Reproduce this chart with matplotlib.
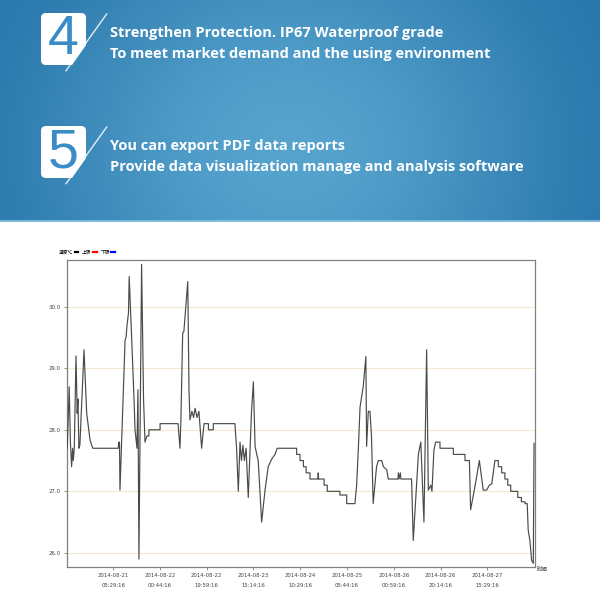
import numpy as np
import matplotlib
matplotlib.use('Agg')
import matplotlib.pyplot as plt
import pandas as pd
from matplotlib.patches import FancyBboxPatch, Polygon
from matplotlib.lines import Line2D

# ---------------- data ----------------
hours = [0.1, 0.5, 0.9, 1.4, 1.9, 2.3, 2.6, 3.0, 3.7, 4.2, 4.5, 4.9, 5.3, 7.0, 8.1, 9.5, 10.6,
         21.1, 21.3, 21.6, 21.8, 23.9, 24.3, 24.7, 25.3, 25.6, 26.1, 26.5, 27.6, 28.0, 28.8, 29.2,
         29.6, 30.7, 31.5, 32.1, 32.9, 33.7, 33.7, 38.3, 38.3, 45.7, 46.1, 46.5, 46.9, 47.6, 48.1,
         49.7, 50.2, 50.6, 51.4, 52.1, 52.7, 53.5, 54.3, 55.4, 56.4, 58.2, 58.2, 60.2, 60.2, 69.1,
         69.8, 70.5, 71.2, 71.8, 72.4, 73.0, 73.7, 74.6, 75.9, 76.7, 77.4, 78.1, 78.7, 80.1, 81.5,
         82.8, 84.2, 85.6, 86.5, 94.5, 94.5, 95.9, 95.9, 97.3, 97.3, 98.4, 98.4, 100.0, 100.0,
         103.3, 103.4, 103.5, 105.8, 105.8, 107.1, 107.1, 112.3, 112.3, 115.1, 115.1, 118.5,
         119.2, 119.9, 120.6, 121.9, 123.0, 123.3, 124.0, 124.7, 125.3, 126.0, 127.4, 128.1,
         129.5, 130.2, 131.6, 132.2, 136.2, 136.4, 136.6, 137.2, 137.4, 141.8, 142.5, 144.6,
         145.6, 146.9, 148.0, 148.7, 149.7, 150.2, 151.0, 151.7, 153.5, 153.5, 159.0, 159.0,
         163.8, 163.8, 165.6, 166.1, 167.9, 169.7, 171.3, 172.7, 173.8, 174.8, 176.1, 177.5,
         177.5, 178.9, 178.9, 180.2, 180.2, 181.4, 181.4, 182.6, 182.6, 185.5, 185.5, 187.0,
         187.0, 188.5, 188.5, 189.4, 189.8, 190.5, 191.2, 191.9, 192.2]
temps = [27.7, 28.2, 28.7, 27.8, 27.4, 27.7, 27.5, 27.7, 29.2, 28.27, 28.5, 27.7, 27.75, 29.3, 28.27, 27.83, 27.7,
         27.7, 27.8, 27.8, 27.02, 29.46, 29.5, 29.7, 29.9, 30.49, 30.0, 29.6, 28.48, 28.0, 27.7, 28.65,
         25.9, 30.69, 28.5, 27.8, 27.9, 27.9, 28.0, 28.0, 28.1, 28.1, 27.9, 27.7, 28.2, 29.57, 29.6,
         30.41, 28.65, 28.16, 28.3, 28.2, 28.35, 28.2, 28.3, 27.7, 28.1, 28.1, 28.0, 28.0, 28.1, 28.1,
         27.7, 27.0, 27.8, 27.5, 27.75, 27.5, 27.7, 26.9, 28.27, 28.78, 27.73, 27.6, 27.5, 26.5, 27.02,
         27.4, 27.52, 27.6, 27.7, 27.7, 27.6, 27.6, 27.5, 27.5, 27.4, 27.4, 27.3, 27.3, 27.2,
         27.2, 27.3, 27.2, 27.2, 27.1, 27.1, 27.0, 27.0, 26.94, 26.94, 26.8, 26.8,
         27.1, 27.7, 28.37, 28.7, 29.19, 27.73, 28.3, 28.3, 27.9, 26.8, 27.4, 27.5,
         27.5, 27.4, 27.35, 27.2, 27.2, 27.3, 27.2, 27.3, 27.2, 27.2, 26.2, 27.6,
         27.8, 26.5, 29.3, 27.02, 27.1, 27.0, 27.67, 27.8, 27.8, 27.7, 27.7, 27.6,
         27.6, 27.5, 27.5, 26.7, 27.08, 27.5, 27.02, 27.02, 27.1, 27.12, 27.5, 27.5,
         27.4, 27.4, 27.3, 27.3, 27.2, 27.2, 27.1, 27.1, 27.0, 27.0, 26.9, 26.9,
         26.83, 26.83, 26.8, 26.8, 26.37, 26.2, 25.88, 25.83, 27.78]

start_time = '2014-08-20 10:30:00'
tick_times = ['2014-08-21 05:29:16', '2014-08-22 00:44:16', '2014-08-22 19:59:16',
              '2014-08-23 15:14:16', '2014-08-24 10:29:16', '2014-08-25 05:44:16',
              '2014-08-26 00:59:16', '2014-08-26 20:14:16', '2014-08-27 15:29:16']
y_ticks = [26.0, 27.0, 28.0, 29.0, 30.0]
legend_labels = ['温度℃', '上限', '下限']
legend_colors = ['black', 'red', 'blue']
x_label = '时间'

banner_numbers = ['4', '5']
banner_lines = [['Strengthen Protection. IP67 Waterproof grade',
                 'To meet market demand and the using environment'],
                ['You can export PDF data reports',
                 'Provide data visualization manage and analysis software']]

# ---------------- figure ----------------
fig = plt.figure(figsize=(6, 6), dpi=100)
fig.patch.set_facecolor('white')

# banner
bax = fig.add_axes([0, 1 - 222 / 600, 1, 222 / 600])
bax.set_xlim(0, 600)
bax.set_ylim(222, 0)
bax.axis('off')
gx = np.linspace(0, 600, 300)
gy = np.linspace(0, 222, 120)
GX, GY = np.meshgrid(gx, gy)
f = np.exp(-((GX - 290) / 270) ** 2 - ((GY - 150) / 240) ** 2)
dark = np.array([30, 108, 163]) / 255
light = np.array([86, 163, 206]) / 255
img = dark[None, None, :] + (light - dark)[None, None, :] * f[:, :, None]
bax.imshow(img, extent=(0, 600, 222, 0), aspect='auto', interpolation='bilinear', zorder=0)
bax.axhline(221, color='#8cc4e2', lw=1.2, zorder=1)

for i, (num, lines) in enumerate(zip(banner_numbers, banner_lines)):
    oy = 113 * i
    box = FancyBboxPatch((41, 13 + oy), 45, 52, boxstyle='round,pad=0,rounding_size=5',
                         fc='white', ec='none', zorder=2)
    bax.add_patch(box)
    k = 0.705
    clip = Polygon([(0, oy - 60), (72 + (65 + 60) * k, oy - 60),
                    (72 - (200 - 65) * k, oy + 200), (0, oy + 200)],
                   closed=True, transform=bax.transData)
    box.set_clip_path(clip)
    bax.plot([66, 106.7], [70.7 + oy, 14 + oy], color='white', lw=1.0, alpha=0.85, zorder=2)
    bax.text(63, 40 + oy, num, fontsize=40, family='Liberation Sans', color='#3a8cc6',
             ha='center', va='center', zorder=3)
    for j, ln in enumerate(lines):
        bax.text(110, 37 + oy + 21 * j, ln, fontsize=10.5, family='Open Sans',
                 fontweight='bold', color='white', ha='left', va='baseline', zorder=3)

# chart
ax = fig.add_axes([67 / 600, 33 / 600, 468 / 600, 307 / 600])
start = pd.Timestamp(start_time)
tick_hours = [(pd.Timestamp(t) - start).total_seconds() / 3600 for t in tick_times]
tick_labels = [t[:10] + '\n' + t[11:] for t in tick_times]

ax.plot(hours, temps, color='#4a4a4a', lw=0.85, zorder=3)
ax.set_xlim(0, 192.6)
ax.set_ylim(25.77, 30.76)
ax.set_yticks(y_ticks)
ax.set_yticklabels(['%.1f' % v for v in y_ticks])
ax.set_xticks(tick_hours)
ax.set_xticklabels(tick_labels)
for v in y_ticks:
    ax.axhline(v, color='#f3eacb', lw=0.8, zorder=1)
for s in ax.spines.values():
    s.set_color('#808080')
    s.set_linewidth(0.9)
ax.tick_params(axis='both', length=2.5, width=0.6, color='#808080', labelsize=3.9,
               labelcolor='#444444', pad=2)
for lab in ax.get_xticklabels() + ax.get_yticklabels():
    lab.set_family(['Liberation Sans Narrow', 'DejaVu Sans'])
for lab in ax.get_xticklabels():
    lab.set_linespacing(2.3)

ax.text(1.003, -0.008, x_label, transform=ax.transAxes, fontsize=4.0,
        family=['Noto Sans CJK SC', 'DejaVu Sans'], ha='left', va='center', color='#333333')

handles = [Line2D([], [], color=c, lw=1.6) for c in legend_colors]
leg = ax.legend(handles, legend_labels, ncol=3, markerfirst=False, frameon=False,
                loc='lower left', bbox_to_anchor=(-0.025, 1.005), handlelength=0.7,
                handletextpad=0.35, columnspacing=0.8, borderaxespad=0.4,
                prop={'family': ['Noto Sans CJK SC', 'DejaVu Sans'], 'size': 3.4})

fig.savefig('out.png', dpi=100)
